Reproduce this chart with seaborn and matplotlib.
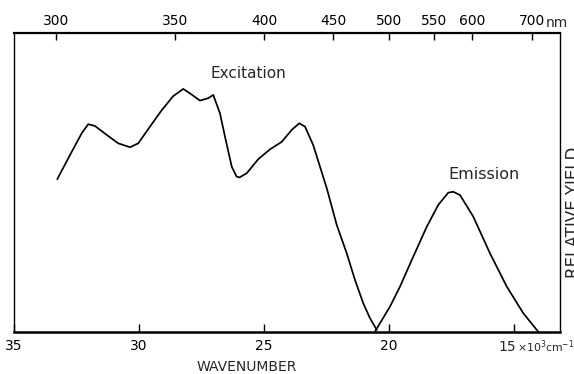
import matplotlib
matplotlib.use("Agg")
import matplotlib.pyplot as plt
import matplotlib.transforms as mtransforms
import seaborn as sns
import pandas as pd

# ---- data (wavenumber in 10^3 cm^-1, relative yield in arbitrary units 0-100) ----
exc_wavenumber = [33.27, 32.76, 32.29, 32.03, 31.76, 31.29, 30.83, 30.36, 30.03,
                  29.56, 29.09, 28.63, 28.23, 27.96, 27.56, 27.23, 27.03, 26.76,
                  26.56, 26.29, 26.10, 25.98, 25.69, 25.23, 24.76, 24.29, 23.89,
                  23.59, 23.36, 23.03, 22.49, 22.09, 21.69, 21.36, 21.03, 20.76, 20.49]
exc_yield = [51.1, 59.2, 66.5, 69.5, 68.9, 65.9, 63.1, 61.8, 63.1,
             68.7, 74.2, 78.9, 81.3, 79.8, 77.4, 78.2, 79.3, 73.1,
             65.3, 55.3, 52.0, 51.7, 53.1, 57.8, 61.1, 63.6, 67.6,
             69.8, 68.7, 62.5, 48.1, 35.8, 26.3, 17.4, 9.6, 4.6, 0.7]

em_wavenumber = [20.55, 19.96, 19.56, 19.03, 18.49, 18.03, 17.63, 17.43, 17.16,
                 16.63, 15.96, 15.29, 14.63, 14.09, 14.02]
em_yield = [0.3, 8.5, 15.2, 25.2, 35.2, 42.5, 46.6, 46.9, 45.8,
            38.6, 26.3, 15.2, 6.3, 0.7, 0.0]

bottom_ticks = [35, 30, 25, 20, 15]
bottom_labels = ["35", "30", "25", "20", ""]
last_bottom_label = "15"
top_nm = [300, 350, 400, 450, 500, 550, 600, 700]
top_labels = ["300", "350", "400", "450", "500", "550", "600", "700"]

# ---- figure ----
sns.set_style("white")
plt.rcParams['font.family'] = ['DejaVu Sans']

fig = plt.figure(figsize=(5.74, 3.74), dpi=100)
ax = fig.add_axes([14/574, (374-332)/374, (560-14)/574, (332-33)/374])

df_exc = pd.DataFrame({"w": exc_wavenumber, "y": exc_yield})
df_em = pd.DataFrame({"w": em_wavenumber, "y": em_yield})
sns.lineplot(data=df_exc, x="w", y="y", ax=ax, color="black", linewidth=1.25,
             estimator=None, sort=False)
sns.lineplot(data=df_em, x="w", y="y", ax=ax, color="black", linewidth=1.25,
             estimator=None, sort=False)

ax.set_xlim(35, 13.16)
ax.set_ylim(0, 100)
ax.set_xlabel("")
ax.set_ylabel("")
ax.set_yticks([])
ax.set_xticks(bottom_ticks)
ax.set_xticklabels(bottom_labels)
ax.tick_params(axis="x", direction="in", length=6, width=1.0, pad=5,
               labelsize=10, colors="black")
ax.xaxis.get_major_ticks()[0].tick1line.set_visible(False)

for side in ["left", "right"]:
    ax.spines[side].set_linewidth(1.0)
    ax.spines[side].set_color("black")
ax.spines["bottom"].set_linewidth(1.8)
ax.spines["bottom"].set_color("black")
ax.spines["top"].set_linewidth(1.6)
ax.spines["top"].set_color("black")

# top axis in nm
ax2 = ax.twiny()
ax2.set_xlim(ax.get_xlim())
ax2.set_xticks([1e4 / v for v in top_nm])
ax2.set_xticklabels(top_labels)
ax2.tick_params(axis="x", direction="in", length=5, width=1.0, pad=3.5,
                labelsize=10, colors="black")
ax2.set_yticks([])
for s in ax2.spines.values():
    s.set_visible(False)

# unit annotations
trans_top = mtransforms.blended_transform_factory(ax.transData, fig.transFigure)
ax.text(35 - (546 - 14) / 25, (374-23)/374, "nm", transform=trans_top, ha="left",
        va="center", fontsize=10, clip_on=False)
ax.text(35 - (516 - 14) / 25, (374-347)/374, last_bottom_label, transform=trans_top,
        ha="right", va="center", fontsize=10, clip_on=False)
ax.text(35 - (517 - 14) / 25, (374-347)/374, "×10$^3$cm$^{-1}$", transform=trans_top,
        ha="left", va="center", fontsize=7.8, clip_on=False)

# labels
ax.text(25.64, 86.3, "Excitation", ha="center", va="center", fontsize=11)
ax.text(16.2, 52.8, "Emission", ha="center", va="center", fontsize=11.5)
fig.text(247/574, (374-367)/374, "WAVENUMBER", ha="center", va="center", fontsize=10)
fig.text(565/574, (374-212)/374, "RELATIVE YIELD", rotation=90, ha="left",
         va="center", fontsize=12)

fig.savefig("out.png", dpi=100)
